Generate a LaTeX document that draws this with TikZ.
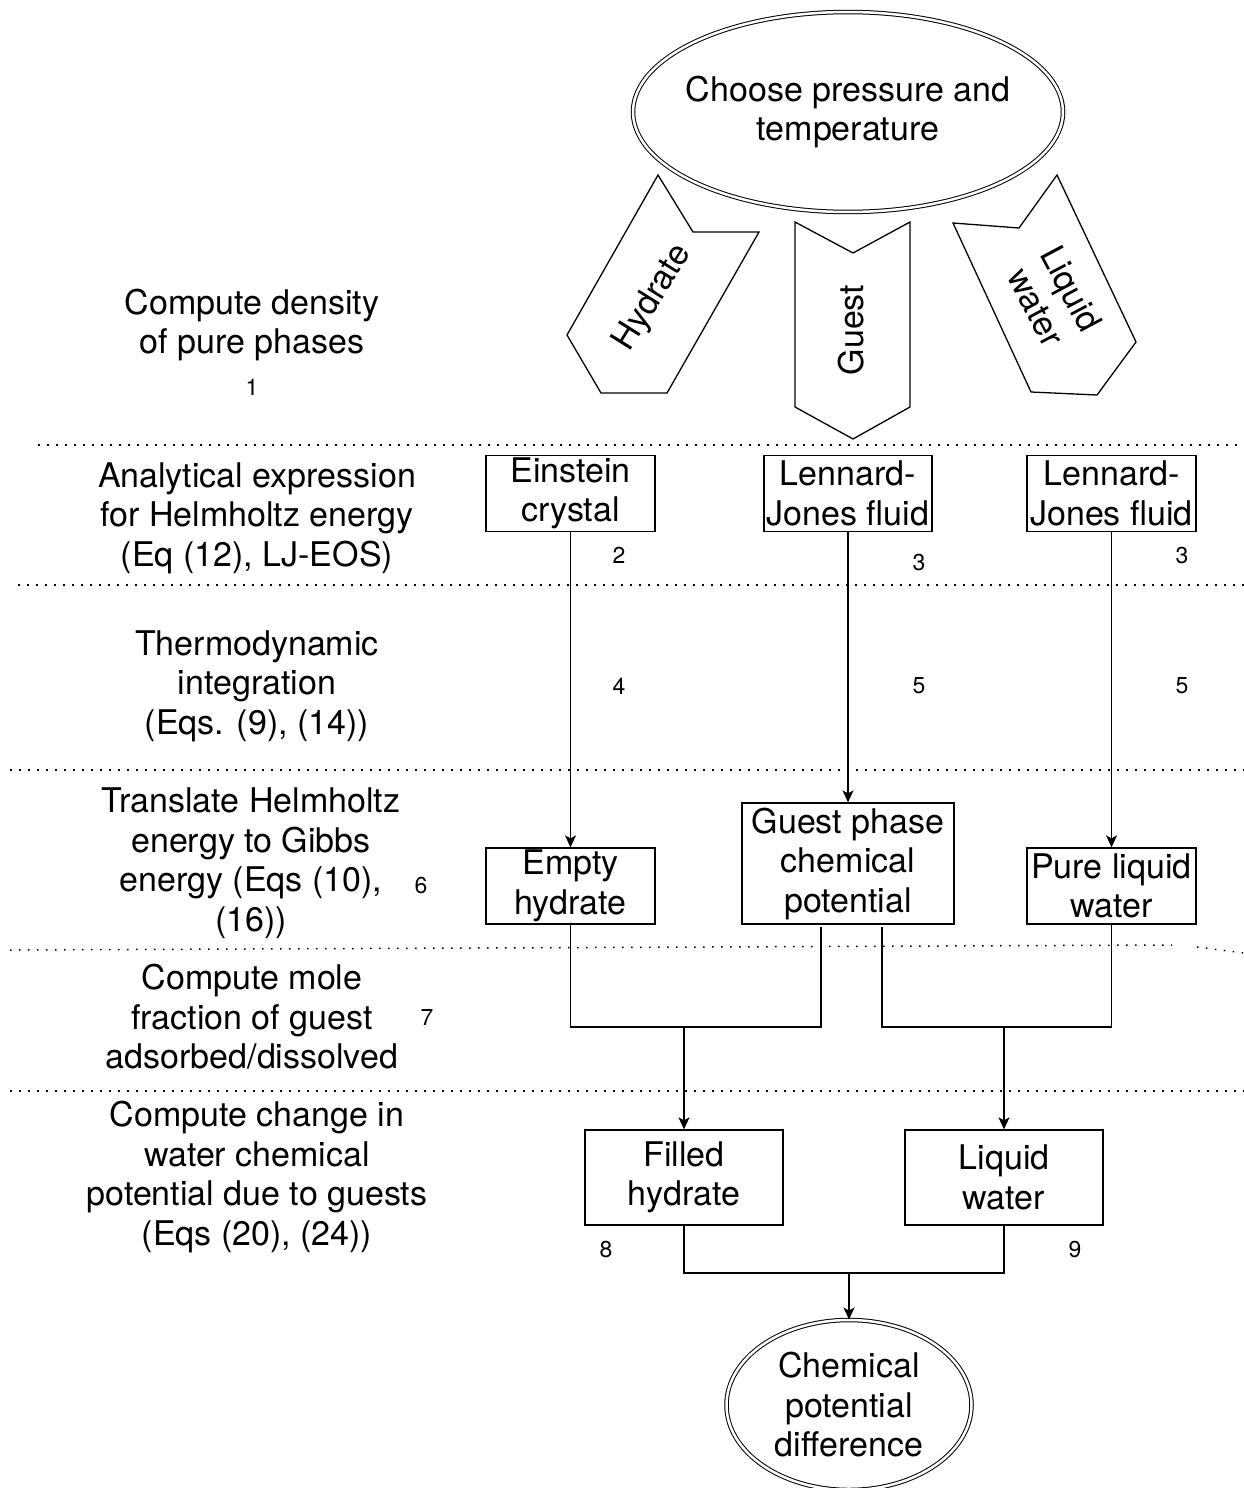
\documentclass[tikz,border=0pt]{standalone}
\usepackage{fontspec}
\setmainfont{TeX Gyre Heros}
\usetikzlibrary{shapes.geometric,arrows.meta}

\tikzset{
  box/.style={draw, inner sep=0pt, align=center},
  oval/.style={ellipse, draw, double, double distance=2.5pt, line width=1pt, inner sep=0pt},
  sidetext/.style={align=center},
  numtag/.style={font=\fontsize{23}{26}\selectfont},
  dotline/.style={line width=1.5pt, dash pattern=on 1.5pt off 7.5pt},
  arr/.style={-{Stealth[length=12pt,width=11pt,inset=3pt]}},
}

\begin{document}
\begin{tikzpicture}[x=1pt,y=-1pt,line width=1.3pt,font=\fontsize{34}{39.5}\selectfont]
\useasboundingbox (0,0) rectangle (1244,1488);

%---------------------------------
% start and phases
\node[oval, minimum width=430pt, minimum height=200pt] (start) at (848,112) {};
\node[align=center] (starttxt) at (start.center) {Choose pressure and\\temperature};

\draw (658,175) -- (693,232) -- (759,232) -- (667,393) -- (601,393) -- (567,335) -- cycle;
\draw (795,222) -- (853,253) -- (910,222) -- (910,407) -- (853,439) -- (795,407) -- cycle;
\draw (1057,175) -- (1136,342) -- (1097,395) -- (1031,392) -- (953,223) -- (1019,228) -- cycle;
\node[rotate=58] (hyd) at (653,298) {Hydrate};
\node[rotate=90] (gst) at (851,330) {Guest};
\node[rotate=-62, align=center] (lqw) at (1054,298) {Liquid\\water};

%---------------------------------
% row separators
\draw[dotline] (38,445) -- (1244,445);
\draw[dotline] (18,585) -- (1244,585);
\draw[dotline] (10,770) -- (1244,770);
\draw[dotline] (10,950) -- (1172,945);
\draw[dotline] (1197,947) -- (1244,953);
\draw[dotline] (10,1091) -- (1244,1091);

%---------------------------------
% left column
\node[sidetext] (s1) at (252,325) {Compute density\\of pure phases};
\node[sidetext] (s2) at (257,518) {Analytical expression\\for Helmholtz energy\\(Eq (12), LJ-EOS)};
\node[sidetext] (s3) at (257,686) {Thermodynamic\\integration\\ (Eqs. (9), (14))};
\node[sidetext] (s4) at (251,863) {Translate Helmholtz\\energy to Gibbs\\energy (Eqs (10),\\(16))};
\node[sidetext] (s5) at (252,1017) {Compute mole\\fraction of guest\\adsorbed/dissolved};
\node[sidetext] (s6) at (257,1177) {Compute change in\\water chemical\\potential due to guests\\(Eqs (20), (24))};

%---------------------------------
% boxes
\node[box, minimum width=169pt, minimum height=76pt] (ein) at (570.5,493.5) {Einstein\\crystal};
\node[box, minimum width=168pt, minimum height=76pt] (ljg) at (848,493.5) {Lennard-\\Jones fluid};
\node[box, minimum width=169pt, minimum height=76pt] (ljw) at (1111.5,493.5) {Lennard-\\Jones fluid};

\node[box, minimum width=169pt, minimum height=76pt] (emp) at (570.5,886) {Empty\\hydrate};
\node[box, minimum width=212pt, minimum height=121pt] (gpot) at (848,863.5) {Guest phase\\chemical\\potential};
\node[box, minimum width=169pt, minimum height=76pt] (pure) at (1111.5,886) {Pure liquid\\water};

\node[box, minimum width=198pt, minimum height=95pt] (fill) at (684,1177.5) {Filled\\hydrate};
\node[box, minimum width=198pt, minimum height=95pt] (liq) at (1004,1177.5) {Liquid\\water};

\node[oval, minimum width=245pt, minimum height=170pt] (res) at (849,1405) {};
\node[align=center] (restxt) at (res.center) {Chemical\\potential\\difference};

%---------------------------------
% connectors
\draw[arr] (ein.south) -- (emp.north);
\draw[arr] (ljg.south) -- (gpot.north);
\draw[arr] (ljw.south) -- (pure.north);

\coordinate (gL) at (821,927);
\coordinate (gR) at (882,927);
\coordinate (jL) at (684,1027);
\coordinate (jR) at (1004,1027);
\coordinate (jB) at (849,1273);
\draw (emp.south) |- (jL) -| (gL);
\draw (gR) |- (jR) -| (pure.south);
\draw[arr] (jL) -- (fill.north);
\draw[arr] (jR) -- (liq.north);
\draw (fill.south) |- (jB) -| (liq.south);
\draw[arr] (jB) -- (res.north);

%---------------------------------
% step numbers
\node[numtag] (n1) at (252,387) {1};
\node[numtag] (n2) at (619,555) {2};
\node[numtag] (n3a) at (919,563) {3};
\node[numtag] (n3b) at (1182,556) {3};
\node[numtag] (n4) at (619,686) {4};
\node[numtag] (n5a) at (919,686) {5};
\node[numtag] (n5b) at (1182,686) {5};
\node[numtag] (n6) at (421,886) {6};
\node[numtag] (n7) at (427,1018) {7};
\node[numtag] (n8) at (606,1250) {8};
\node[numtag] (n9) at (1075,1250) {9};
\end{tikzpicture}
\end{document}
